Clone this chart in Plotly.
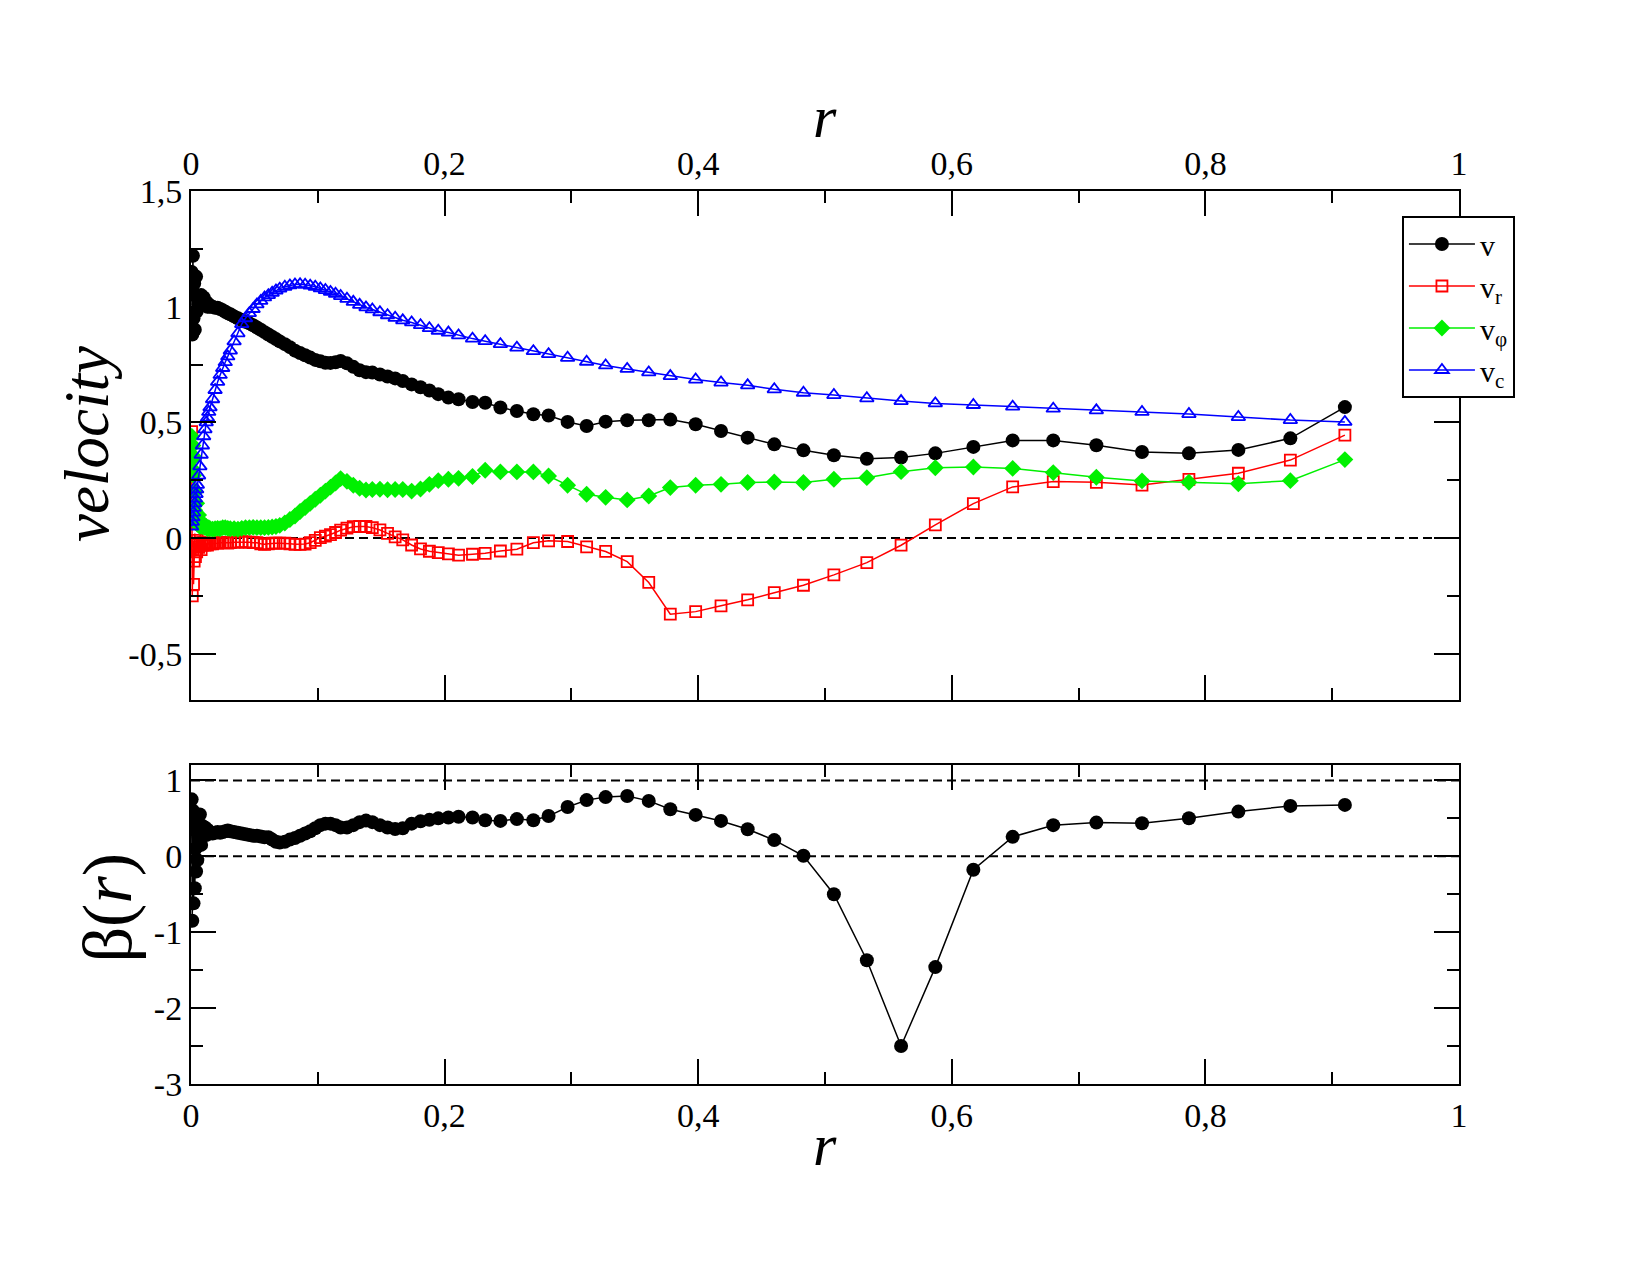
import plotly.graph_objects as go

# ---------------- data ----------------
r = [0.0005, 0.001, 0.0015, 0.002, 0.0025, 0.003, 0.0035, 0.004, 0.0045, 0.005,
     0.006, 0.007, 0.008, 0.009, 0.010, 0.011, 0.012, 0.013, 0.014, 0.015,
     0.017, 0.019, 0.021, 0.023, 0.025, 0.027, 0.029, 0.031, 0.034, 0.037,
     0.040, 0.043, 0.046, 0.049, 0.052, 0.055, 0.058, 0.061, 0.064, 0.067,
     0.070, 0.074, 0.078, 0.082, 0.086, 0.090, 0.094, 0.098, 0.102, 0.106,
     0.110, 0.114, 0.118, 0.123, 0.128, 0.133, 0.138, 0.143, 0.149, 0.155,
     0.161, 0.167, 0.174, 0.181, 0.188, 0.195, 0.203, 0.211, 0.222, 0.232,
     0.244, 0.257, 0.270, 0.282, 0.297, 0.312, 0.327, 0.344, 0.361, 0.378,
     0.398, 0.418, 0.439, 0.460, 0.483, 0.507, 0.533, 0.560, 0.587, 0.617,
     0.648, 0.680, 0.714, 0.750, 0.787, 0.826, 0.867, 0.910]

v = [1.15, 0.88, 1.22, 0.95, 1.10, 0.90, 1.05, 1.13, 0.98, 1.04,
     1.01, 1.03, 1.05, 1.02, 1.04, 1.01, 1.02, 1.00, 1.01, 1.00,
     1.00, 0.995, 0.995, 0.99, 0.985, 0.978, 0.972, 0.967, 0.958, 0.950,
     0.942, 0.935, 0.928, 0.920, 0.910, 0.900, 0.890, 0.880, 0.870, 0.860,
     0.850, 0.838, 0.825, 0.810, 0.800, 0.790, 0.780, 0.770, 0.764, 0.758,
     0.757, 0.760, 0.765, 0.755, 0.740, 0.725, 0.717, 0.715, 0.707, 0.698,
     0.690, 0.679, 0.664, 0.652, 0.638, 0.622, 0.607, 0.600, 0.588, 0.585,
     0.564, 0.549, 0.535, 0.530, 0.502, 0.484, 0.503, 0.509, 0.509, 0.512,
     0.492, 0.463, 0.434, 0.405, 0.379, 0.358, 0.343, 0.348, 0.366, 0.394,
     0.422, 0.422, 0.401, 0.372, 0.366, 0.381, 0.431, 0.566]

v_r = [0.46, -0.25, -0.05, -0.20, -0.10, 0.02, -0.08, -0.03, -0.06, -0.01,
       -0.04, -0.02, -0.05, -0.03, -0.02, -0.03, -0.025, -0.03, -0.022, -0.025,
       -0.025, -0.022, -0.022, -0.02, -0.02, -0.02, -0.022, -0.02, -0.018, -0.018,
       -0.016, -0.017, -0.018, -0.02, -0.02, -0.025, -0.027, -0.025, -0.022, -0.022,
       -0.022, -0.022, -0.025, -0.027, -0.027, -0.026, -0.02, -0.01, 0.002, 0.008,
       0.015, 0.024, 0.034, 0.043, 0.049, 0.05, 0.05, 0.045, 0.035, 0.02,
       0.005, -0.008, -0.03, -0.047, -0.057, -0.063, -0.068, -0.074, -0.070, -0.066,
       -0.056, -0.048, -0.020, -0.012, -0.015, -0.038, -0.058, -0.102, -0.192, -0.329,
       -0.318, -0.293, -0.267, -0.236, -0.204, -0.159, -0.106, -0.031, 0.057, 0.149,
       0.221, 0.244, 0.241, 0.229, 0.254, 0.280, 0.337, 0.445]

v_phi = [0.44, 0.30, 0.40, 0.27, 0.35, 0.12, 0.20, 0.08, 0.15, 0.06,
         0.10, 0.05, 0.07, 0.05, 0.06, 0.045, 0.05, 0.04, 0.045, 0.04,
         0.038, 0.04, 0.042, 0.04, 0.045, 0.045, 0.042, 0.04, 0.04, 0.038,
         0.042, 0.045, 0.045, 0.046, 0.045, 0.045, 0.045, 0.046, 0.048, 0.05,
         0.055, 0.065, 0.08, 0.095, 0.115, 0.132, 0.15, 0.168, 0.185, 0.203,
         0.22, 0.238, 0.257, 0.245, 0.228, 0.215, 0.208, 0.21, 0.211, 0.209,
         0.21, 0.21, 0.203, 0.212, 0.232, 0.248, 0.254, 0.258, 0.266, 0.293,
         0.286, 0.286, 0.286, 0.268, 0.228, 0.189, 0.176, 0.165, 0.182, 0.218,
         0.228, 0.232, 0.240, 0.242, 0.240, 0.254, 0.261, 0.287, 0.304, 0.307,
         0.301, 0.283, 0.263, 0.247, 0.241, 0.235, 0.248, 0.339]

v_c = [0.05, 0.07, 0.09, 0.11, 0.13, 0.15, 0.17, 0.19, 0.21, 0.23,
       0.27, 0.31, 0.36, 0.40, 0.44, 0.47, 0.50, 0.52, 0.545, 0.565,
       0.60, 0.64, 0.675, 0.705, 0.735, 0.76, 0.785, 0.81, 0.85, 0.885,
       0.925, 0.95, 0.972, 0.99, 1.01, 1.025, 1.04, 1.05, 1.06, 1.07,
       1.078, 1.086, 1.092, 1.096, 1.097, 1.095, 1.091, 1.086, 1.079, 1.072,
       1.064, 1.056, 1.046, 1.034, 1.021, 1.008, 0.997, 0.988, 0.976, 0.963,
       0.952, 0.941, 0.932, 0.920, 0.907, 0.896, 0.888, 0.876, 0.862, 0.851,
       0.838, 0.823, 0.808, 0.795, 0.779, 0.762, 0.746, 0.731, 0.716, 0.700,
       0.685, 0.672, 0.660, 0.643, 0.628, 0.618, 0.604, 0.592, 0.582, 0.575,
       0.568, 0.559, 0.552, 0.545, 0.536, 0.523, 0.510, 0.502]

beta = [0.75, -0.85, 0.60, -0.62, 0.35, -0.42, 0.10, -0.20, 0.45, -0.05,
        0.25, 0.55, 0.15, 0.40, 0.30, 0.38, 0.28, 0.35, 0.30, 0.32,
        0.30, 0.31, 0.32, 0.31, 0.32, 0.33, 0.34, 0.33, 0.32, 0.31,
        0.30, 0.29, 0.28, 0.27, 0.27, 0.26, 0.25, 0.25, 0.22, 0.19,
        0.18, 0.19, 0.22, 0.24, 0.27, 0.30, 0.33, 0.37, 0.41, 0.43,
        0.43, 0.41, 0.38, 0.38, 0.41, 0.45, 0.47, 0.45, 0.41, 0.38,
        0.36, 0.37, 0.43, 0.46, 0.48, 0.50, 0.51, 0.52, 0.51, 0.475,
        0.466, 0.49, 0.475, 0.53, 0.65, 0.74, 0.78, 0.795, 0.73, 0.62,
        0.545, 0.466, 0.357, 0.213, 0.007, -0.50, -1.37, -2.50, -1.46, -0.177,
        0.256, 0.41, 0.444, 0.436, 0.502, 0.589, 0.664, 0.677]

x_ticks = [0, 0.2, 0.4, 0.6, 0.8, 1]
x_ticktext = ["0", "0,2", "0,4", "0,6", "0,8", "1"]
x_minor = [0.1, 0.3, 0.5, 0.7, 0.9]
v_ticks = [-0.5, 0, 0.5, 1, 1.5]
v_ticktext = ["-0,5", "0", "0,5", "1", "1,5"]
v_minor = [-0.25, 0.25, 0.75, 1.25]
b_ticks = [-3, -2, -1, 0, 1]
b_ticktext = ["-3", "-2", "-1", "0", "1"]
b_minor = [-2.5, -1.5, -0.5, 0.5]
b_refs = [0, 1]
v_refs = [0]

FONT = "Liberation Serif"
GREEN = "#00f000"

fig = go.Figure()

fig.add_trace(go.Scatter(x=r, y=v, mode="lines+markers", name="v",
                         line=dict(color="black", width=1.5),
                         marker=dict(symbol="circle", size=14, color="black"),
                         xaxis="x", yaxis="y"))
fig.add_trace(go.Scatter(x=r, y=v_r, mode="lines+markers", name="v<sub>r</sub>",
                         line=dict(color="#ff0000", width=1.5),
                         marker=dict(symbol="square-open", size=11, color="#ff0000",
                                     line=dict(width=1.8, color="#ff0000")),
                         xaxis="x", yaxis="y"))
fig.add_trace(go.Scatter(x=r, y=v_phi, mode="lines+markers", name="v<sub>φ</sub>",
                         line=dict(color=GREEN, width=1.5),
                         marker=dict(symbol="diamond", size=13, color=GREEN),
                         xaxis="x", yaxis="y"))
fig.add_trace(go.Scatter(x=r, y=v_c, mode="lines+markers", name="v<sub>c</sub>",
                         line=dict(color="#0000ff", width=1.5),
                         marker=dict(symbol="triangle-up-open", size=12, color="#0000ff",
                                     line=dict(width=1.8, color="#0000ff")),
                         xaxis="x", yaxis="y"))
fig.add_trace(go.Scatter(x=r, y=beta, mode="lines+markers", showlegend=False,
                         line=dict(color="black", width=1.5),
                         marker=dict(symbol="circle", size=14, color="black"),
                         xaxis="x2", yaxis="y2"))

shapes = []
for yv in v_refs:
    shapes.append(dict(type="line", xref="x domain", yref="y", x0=0, x1=1, y0=yv, y1=yv,
                       line=dict(color="black", width=2, dash="9px,5px"), layer="below"))
for yv in b_refs:
    shapes.append(dict(type="line", xref="x2 domain", yref="y2", x0=0, x1=1, y0=yv, y1=yv,
                       line=dict(color="black", width=2, dash="9px,5px"), layer="below"))

tickfont = dict(family=FONT, size=34, color="black")

def axis_common(tv, tt, minor_vals, rng):
    return dict(range=rng, tickmode="array", tickvals=tv, ticktext=tt,
                ticks="inside", ticklen=25, tickwidth=2, tickcolor="black",
                minor=dict(tickmode="array", tickvals=minor_vals, ticks="inside",
                           ticklen=12, tickwidth=2, tickcolor="black"),
                showline=True, linewidth=2, linecolor="black", mirror="ticks",
                showgrid=False, zeroline=False, tickfont=tickfont, automargin=False)

xa = axis_common(x_ticks, x_ticktext, x_minor, [0, 1])
xa.update(domain=[0, 1], anchor="y", side="top")
ya = axis_common(v_ticks, v_ticktext, v_minor, [-0.7, 1.5])
ya.update(domain=[0.43, 1], anchor="x")
xa2 = axis_common(x_ticks, x_ticktext, x_minor, [0, 1])
xa2.update(domain=[0, 1], anchor="y2", side="bottom")
ya2 = axis_common(b_ticks, b_ticktext, b_minor, [-3, 1.2])
ya2.update(domain=[0, 0.357], anchor="x2")

def title_ann(text, x, y, size, angle=0):
    return dict(text=text, x=x, y=y, xref="paper", yref="paper",
                xanchor="center", yanchor="middle", textangle=angle,
                showarrow=False, font=dict(family=FONT, size=size, color="black"))

annotations = [
    title_ann("<i>r</i>", 0.5, 1.083, 60),
    title_ann("<i>r</i>", 0.5, -0.068, 60),
    title_ann("<i>velocity</i>", -0.082, 0.7167, 63, -90),
    title_ann("β(<i>r</i>)", -0.066, 0.198, 70, -90),
]

fig.update_layout(
    width=1650, height=1275,
    margin=dict(l=191, r=191, t=191, b=191),
    paper_bgcolor="white", plot_bgcolor="white",
    font=dict(family=FONT, color="black"),
    xaxis=xa, yaxis=ya, xaxis2=xa2, yaxis2=ya2,
    shapes=shapes, annotations=annotations,
    showlegend=True,
    legend=dict(x=0.955, y=0.972, xanchor="left", yanchor="top",
                bgcolor="white", bordercolor="black", borderwidth=2,
                font=dict(family=FONT, size=30, color="black"),
                itemwidth=66, entrywidth=80, tracegroupgap=0),
)

fig.write_html("out.html")
